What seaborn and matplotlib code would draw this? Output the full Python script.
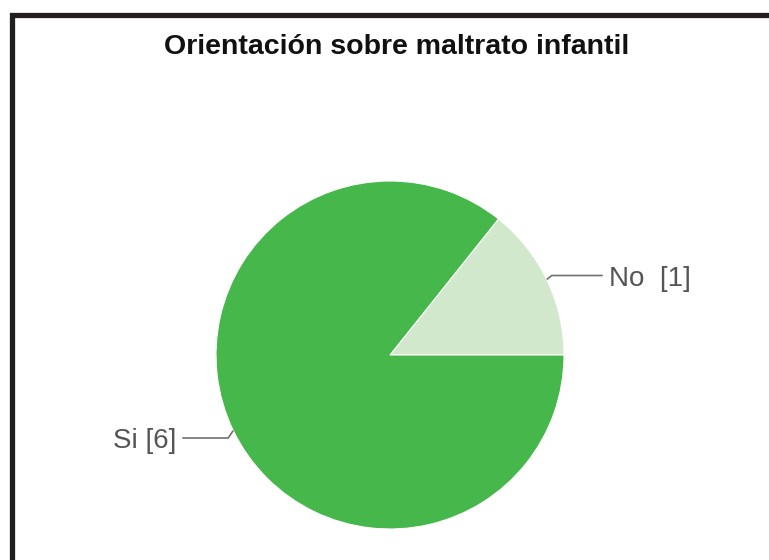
import matplotlib
matplotlib.use("Agg")
import matplotlib.pyplot as plt
import numpy as np
import seaborn as sns
from matplotlib.patches import Rectangle

# data
categories = ["No", "Si"]
counts = [1, 6]
label_texts = ["No  [1]", "Si [6]"]
slice_colors = ["#d1e8cd", "#45b74b"]
title = "Orientación sobre maltrato infantil"

sns.set_theme(style="white")
plt.rcParams["font.family"] = ["Liberation Sans", "DejaVu Sans"]

W, H = 769, 560
fig = plt.figure(figsize=(W / 100, H / 100), dpi=100)
fig.patch.set_facecolor("white")

# pie centre (390, 355) px, radius 174 px
cx, cy, r = 390, 355, 174
ax = fig.add_axes([(cx - r) / W, (H - cy - r) / H, 2 * r / W, 2 * r / H])
wedges, _ = ax.pie(counts, colors=slice_colors, startangle=0, counterclock=True,
                   radius=1, wedgeprops=dict(edgecolor="white", linewidth=0.8))
ax.set_xlim(-1, 1)
ax.set_ylim(-1, 1)
ax.set_aspect("equal")
ax.axis("off")

# leader lines + labels (offsets in px, converted to data units)
px = 1.0 / r
line_dy = {"No": -4, "Si": 7.5}      # vertical hook of the leader line
line_len = {"No": 51, "Si": 46}
for w, cat, txt in zip(wedges, categories, label_texts):
    mid = np.deg2rad((w.theta1 + w.theta2) / 2)
    x0, y0 = np.cos(mid), np.sin(mid)
    side = np.sign(x0)
    xh = x0 + side * 5 * px
    yh = y0 - line_dy[cat] * px
    x_end = xh + side * line_len[cat] * px
    ax.plot([x0, xh, x_end], [y0, yh, yh], color="#707070", lw=1.2,
            clip_on=False, solid_capstyle="butt")
    ax.text(x_end + side * 6 * px, yh - 10 * px, txt,
            ha="left" if side > 0 else "right", va="baseline",
            fontsize=20, color="#555555", clip_on=False)

fig.text(397 / W, 1 - 54 / H, title, ha="center", va="baseline",
         fontsize=20.5, fontweight="bold", color="#111111")

# black frame (right and bottom edges run off the image)
frame = Rectangle((11.5 / W, -0.2), 1.3, 1.2 - 14.5 / H, transform=fig.transFigure,
                  fill=False, edgecolor="#231f20", linewidth=3.8)
fig.add_artist(frame)

fig.savefig("out.png", dpi=100)
